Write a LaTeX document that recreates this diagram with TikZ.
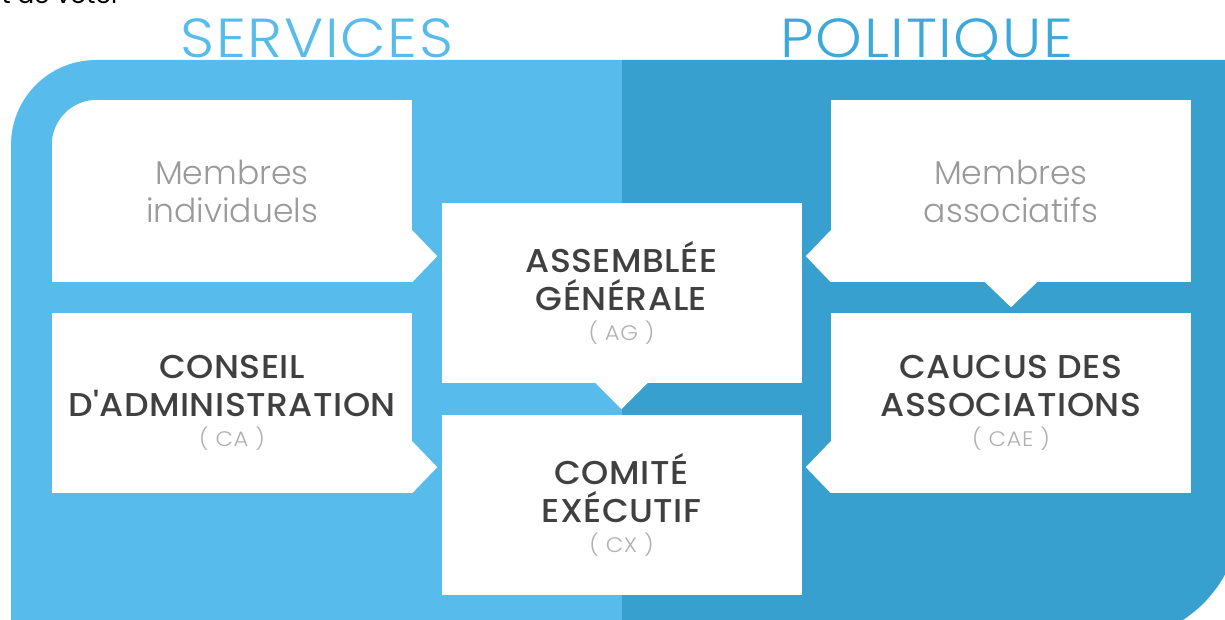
\documentclass[tikz,border=0pt]{standalone}
\usepackage{fontspec}
\setmainfont{Poppins}
\newfontfamily\lightfont{Poppins Light}
\newfontfamily\mediumfont{Poppins Medium}[FakeStretch=1.05, LetterSpace=1.5]
\newfontfamily\widelight{Poppins Light}[FakeStretch=1.08, LetterSpace=3]

\definecolor{svcblue}{HTML}{57BCEB}
\definecolor{polblue}{HTML}{37A0CF}
\definecolor{polhead}{HTML}{3DA9DA}
\definecolor{ink}{HTML}{404040}
\definecolor{softgray}{HTML}{9A9A9A}
\definecolor{codegray}{HTML}{B0B0B0}

\tikzset{
  card/.style={fill=white, minimum width=360pt, minimum height=180pt,
    inner sep=0pt, align=center, text=ink,
    font=\mediumfont\fontsize{33}{38}\selectfont},
  members/.style={card, minimum height=182pt, text=softgray, font=\lightfont\fontsize{33}{38}\selectfont},
  heading/.style={anchor=base, font=\widelight\fontsize{55}{60}\selectfont},
}
% short name under each body
\newcommand{\abbr}[1]{{\widelight\fontsize{21}{22}\selectfont\color{codegray}( #1 )}}

\begin{document}
\begin{tikzpicture}[x=1pt, y=-1pt]
	\useasboundingbox (0,0) rectangle (1225,620);
	\node[anchor=base west, font=\fontsize{25}{30}\selectfont] (voter) at (-2,4) {t de voter};

	% column titles, tucked under the coloured band
	\node[heading, text=svcblue] (services) at (317,58) {SERVICES};
	\node[heading, text=polhead] (politique) at (927,58) {POLITIQUE};

	% two halves of the band
	\fill[svcblue] (622,660) -- (11,660) -- (11,145) arc[start angle=180, end angle=270, radius=85] -- (622,60) -- cycle;
	\fill[polblue] (622,60) -- (1240,60) -- (1240,515) arc[start angle=0, end angle=90, radius=125] -- (622,640) -- cycle;

	% the six bodies
	\node[members] (mi) at (232,191) {Membres\\individuels};
	\node[card] (ca) at (232,403) {CONSEIL\\D'ADMINISTRATION\\[-8pt]\abbr{CA}};
	\node[card] (ag) at (621.5,293) {ASSEMBLÉE\\GÉNÉRALE\\[-8pt]\abbr{AG}};
	\node[card] (cx) at (621.5,505) {COMITÉ\\EXÉCUTIF\\[-8pt]\abbr{CX}};
	\node[members] (ma) at (1011,191) {Membres\\associatifs};
	\node[card] (cae) at (1011,403) {CAUCUS DES\\ASSOCIATIONS\\[-8pt]\abbr{CAE}};

	% round off one corner
	\fill[svcblue] ([xshift=-1pt, yshift=1pt]mi.north west) -- ++(46,0) -- ++(0,1) arc[start angle=270, end angle=180, radius=45] -- ++(-1,0) -- cycle;

	% tabs pointing to the middle column
	\fill[white] (mi.south east) -- ++(0,-52) -- ++(25,26) -- cycle;
	\fill[white] (ca.south east) -- ++(0,-52) -- ++(25,26) -- cycle;
	\fill[white] (ma.south west) -- ++(0,-52) -- ++(-25,26) -- cycle;
	\fill[white] (cae.south west) -- ++(0,-52) -- ++(-25,26) -- cycle;
	% tabs pointing down
	\fill[white] ([xshift=-26pt]ag.south) -- ++(26,26) -- ++(26,-26) -- cycle;
	\fill[white] ([xshift=-26pt]ma.south) -- ++(26,25) -- ++(26,-25) -- cycle;
\end{tikzpicture}
\end{document}
